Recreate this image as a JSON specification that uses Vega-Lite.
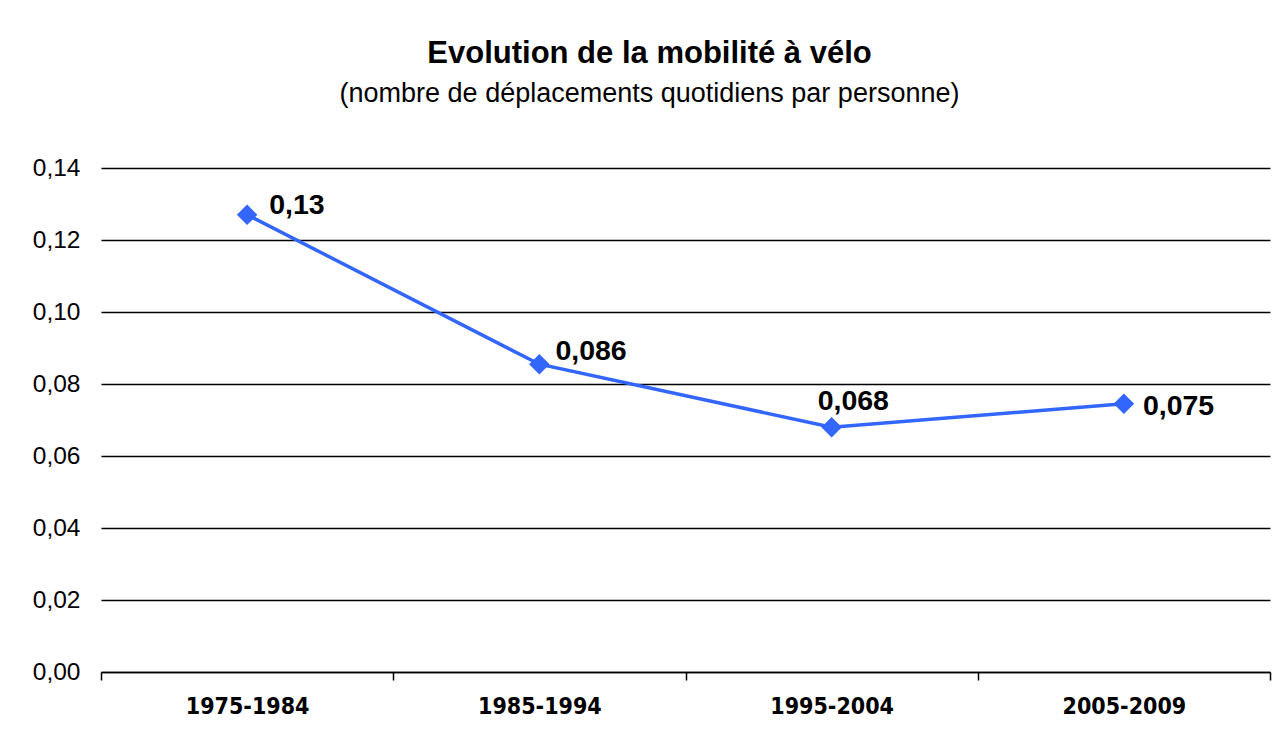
{
  "$schema": "https://vega.github.io/schema/vega-lite/v6.json",
  "width": 1169,
  "height": 504,
  "autosize": {"type": "none"},
  "padding": {"left": 101, "top": 168, "right": 6, "bottom": 78},
  "background": "white",
  "config": {
    "locale": {"number": {"decimal": ",", "thousands": " ", "grouping": [3], "currency": ["", " €"]}},
    "view": {"stroke": null},
    "font": "Liberation Sans"
  },
  "title": {
    "text": "Evolution de la mobilité à vélo",
    "subtitle": "(nombre de déplacements quotidiens par personne)",
    "anchor": "middle",
    "dx": -36,
    "offset": 47,
    "font": "Liberation Sans",
    "fontSize": 31,
    "fontWeight": "bold",
    "color": "black",
    "subtitleFont": "Liberation Sans",
    "subtitleFontSize": 27,
    "subtitleColor": "black",
    "subtitlePadding": 11
  },
  "data": {
    "values": [
      {"periode": "1975-1984", "valeur": 0.127, "etiquette": "0,13"},
      {"periode": "1985-1994", "valeur": 0.0855, "etiquette": "0,086"},
      {"periode": "1995-2004", "valeur": 0.068, "etiquette": "0,068"},
      {"periode": "2005-2009", "valeur": 0.0745, "etiquette": "0,075"}
    ]
  },
  "encoding": {
    "x": {
      "field": "periode",
      "type": "nominal",
      "sort": null,
      "scale": {"paddingInner": 0, "paddingOuter": 0},
      "axis": {
        "title": null,
        "labelAngle": 0,
        "labelFont": "DejaVu Sans Condensed",
        "labelFontSize": 23,
        "labelFontWeight": "bold",
        "labelColor": "black",
        "labelPadding": 15,
        "tickBand": "extent",
        "tickSize": 8,
        "tickColor": "black",
        "tickWidth": 1.5,
        "domainColor": "black",
        "domainWidth": 1.5,
        "grid": false
      }
    },
    "y": {
      "field": "valeur",
      "type": "quantitative",
      "scale": {"domain": [0, 0.14], "nice": false, "zero": true},
      "axis": {
        "title": null,
        "values": [0, 0.02, 0.04, 0.06, 0.08, 0.1, 0.12, 0.14],
        "format": ".2f",
        "labelFont": "Liberation Sans",
        "labelFontSize": 24.5,
        "labelColor": "black",
        "labelPadding": 21,
        "ticks": false,
        "domain": false,
        "grid": true,
        "gridColor": "black",
        "gridWidth": 1.5,
        "gridOpacity": 1
      }
    }
  },
  "layer": [
    {"mark": {"type": "line", "color": "#3366FF", "strokeWidth": 3.5}},
    {"mark": {"type": "point", "shape": "diamond", "size": 420, "filled": true, "color": "#3366FF", "opacity": 1}},
    {
      "transform": [{"filter": "datum.periode == '1975-1984'"}],
      "mark": {"type": "text", "align": "left", "baseline": "middle", "dx": 22, "dy": -10, "font": "Liberation Sans", "fontSize": 28.5, "fontWeight": "bold", "color": "black"},
      "encoding": {"text": {"field": "etiquette"}}
    },
    {
      "transform": [{"filter": "datum.periode == '1985-1994'"}],
      "mark": {"type": "text", "align": "left", "baseline": "middle", "dx": 16, "dy": -13, "font": "Liberation Sans", "fontSize": 28.5, "fontWeight": "bold", "color": "black"},
      "encoding": {"text": {"field": "etiquette"}}
    },
    {
      "transform": [{"filter": "datum.periode == '1995-2004'"}],
      "mark": {"type": "text", "align": "left", "baseline": "middle", "dx": -14, "dy": -26, "font": "Liberation Sans", "fontSize": 28.5, "fontWeight": "bold", "color": "black"},
      "encoding": {"text": {"field": "etiquette"}}
    },
    {
      "transform": [{"filter": "datum.periode == '2005-2009'"}],
      "mark": {"type": "text", "align": "left", "baseline": "middle", "dx": 19, "dy": 2, "font": "Liberation Sans", "fontSize": 28.5, "fontWeight": "bold", "color": "black"},
      "encoding": {"text": {"field": "etiquette"}}
    }
  ]
}
